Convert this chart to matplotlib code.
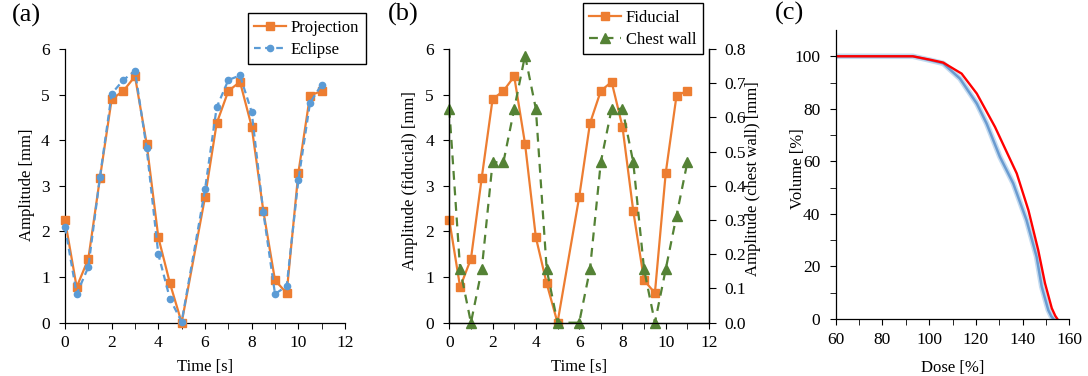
"""
Respiratory motion amplitude and DVH comparison
"""

import matplotlib
matplotlib.use('Agg')
import matplotlib.pyplot as plt
from matplotlib.ticker import MultipleLocator, FormatStrFormatter


# Data

time_s = [0, 0.5, 1, 1.5, 2, 2.5, 3, 3.5, 4, 4.5, 5,
          6, 6.5, 7, 7.5, 8, 8.5, 9, 9.5, 10, 10.5, 11]

projection = [2.25, 0.78, 1.40, 3.18, 4.90, 5.08, 5.40, 3.92, 1.87, 0.86, 0.00,
              2.75, 4.37, 5.08, 5.28, 4.30, 2.45, 0.93, 0.65, 3.28, 4.98, 5.08]

eclipse = [2.10, 0.63, 1.22, 3.20, 5.02, 5.32, 5.52, 3.82, 1.50, 0.52, 0.02,
           2.92, 4.72, 5.32, 5.42, 4.62, 2.42, 0.63, 0.80, 3.12, 4.82, 5.22]

fiducial = projection

chest_wall = [0.625, 0.156, 0.000, 0.156, 0.469, 0.469, 0.625, 0.781, 0.625, 0.156, 0.000,
              0.000, 0.156, 0.469, 0.625, 0.625, 0.469, 0.156, 0.000, 0.156, 0.313, 0.469]

dose_red = [60, 93.0, 100.4, 106.0, 113.9, 120.4, 128.2, 132.5, 137.5,
            142.5, 146.7, 149.6, 152.5, 154.0, 154.9]
vol_red = [100, 100, 98.7, 97.6, 93.4, 85.8, 73.1, 64.9, 55.4,
           41.4, 26.2, 13.6, 4.1, 1.2, 0]

dose_blue = [60, 93.0, 100.4, 106.0, 113.2, 120.4, 124.6, 130.3, 136.0,
             141.7, 146.0, 148.2, 151.0, 152.3, 153.2]
vol_blue = [100, 100, 98.5, 97.3, 91.5, 82.0, 74.4, 61.7, 51.6,
            37.6, 23.7, 12.3, 3.4, 1.0, 0]

ORANGE = '#ED7D31'
BLUE = '#5B9BD5'
GREEN = '#548235'

plt.rcParams['font.family'] = ['Liberation Serif', 'DejaVu Serif']
plt.rcParams['font.size'] = 12
plt.rcParams['xtick.labelsize'] = 12.5
plt.rcParams['ytick.labelsize'] = 12.5
plt.rcParams['xtick.direction'] = 'out'
plt.rcParams['ytick.direction'] = 'out'
plt.rcParams['xtick.major.size'] = 4
plt.rcParams['ytick.major.size'] = 4
plt.rcParams['xtick.minor.size'] = 4
plt.rcParams['ytick.minor.size'] = 4
plt.rcParams['xtick.major.pad'] = 5
plt.rcParams['ytick.major.pad'] = 7
plt.rcParams['axes.linewidth'] = 0.9

fig = plt.figure(figsize=(10.88, 3.76), dpi=100)
W, H = 1088, 376


def add_axes(x0, x1, y_top, y_bot):
    return fig.add_axes([x0 / W, 1 - y_bot / H, (x1 - x0) / W, (y_bot - y_top) / H])


def style_time_axis(ax):
    ax.set_xlim(0, 12)
    ax.set_ylim(0, 6)
    ax.xaxis.set_major_locator(MultipleLocator(2))
    ax.xaxis.set_minor_locator(MultipleLocator(1))
    ax.yaxis.set_major_locator(MultipleLocator(1))
    ax.spines['top'].set_visible(False)
    ax.set_xlabel('Time [s]')
    ax.xaxis.set_label_coords(0.5, -0.133)


def add_legend(handles, labels, right_px, top_px):
    leg = fig.legend(handles, labels, loc='upper right',
                     bbox_to_anchor=(right_px / W, 1 - top_px / H), borderaxespad=0,
                     fancybox=False, edgecolor='black', framealpha=1,
                     handlelength=1.9, handletextpad=0.3, borderpad=0.4,
                     labelspacing=0.35, fontsize=12)
    leg.get_frame().set_linewidth(1.0)
    return leg


# (a) Projection vs Eclipse

ax_a = add_axes(65, 345, 49, 322.7)
ax_a.plot(time_s, projection, color=ORANGE, lw=1.6, marker='s', ms=6,
          label='Projection', clip_on=False, zorder=3)
ax_a.plot(time_s, eclipse, color=BLUE, lw=1.6, ls=(0, (3, 2)), marker='o', ms=4.5,
          label='Eclipse', clip_on=False, zorder=4)
style_time_axis(ax_a)
ax_a.spines['right'].set_visible(False)
ax_a.set_ylabel('Amplitude [mm]')
ax_a.yaxis.set_label_coords(-0.107, 0.503)
add_legend(*ax_a.get_legend_handles_labels(), 366, 13)
fig.text(12 / W, 1 - 4 / H, '(a)', fontsize=19, va='top')


# (b) Fiducial vs chest wall

ax_b = add_axes(449.3, 709, 49, 322.7)
ax_b.plot(time_s, fiducial, color=ORANGE, lw=1.6, marker='s', ms=6,
          label='Fiducial', clip_on=False)
style_time_axis(ax_b)
ax_b.set_ylabel('Amplitude (fiducial) [mm]')
ax_b.yaxis.set_label_coords(-0.12, 0.518)

ax_b2 = ax_b.twinx()
ax_b2.plot(time_s, chest_wall, color=GREEN, lw=1.6, ls=(0, (4, 3)), marker='^', ms=6.5,
           label='Chest wall', clip_on=False)
ax_b2.set_ylim(0, 0.8)
ax_b2.yaxis.set_major_locator(MultipleLocator(0.1))
ax_b2.yaxis.set_major_formatter(FormatStrFormatter('%.1f'))
ax_b2.tick_params(axis='y', length=5, pad=6)
ax_b2.spines['top'].set_visible(False)
ax_b2.set_ylabel('Amplitude (chest wall) [mm]')
ax_b2.yaxis.set_label_coords(1.139, 0.525)

handles = ax_b.get_legend_handles_labels()[0] + ax_b2.get_legend_handles_labels()[0]
add_legend(handles, ['Fiducial', 'Chest wall'], 703, 3)
fig.text(388 / W, 1 - 3 / H, '(b)', fontsize=19, va='top')


# (c) Dose-volume histogram

ax_c = add_axes(835.7, 1069.3, 30, 319)
ax_c.plot(dose_blue, vol_blue, color='#9DC3E6', lw=4, alpha=0.6, solid_capstyle='round')
ax_c.plot(dose_blue, vol_blue, color='#6A9BD0', lw=1.8)
ax_c.plot(dose_red, vol_red, color='#FF0000', lw=1.7)
ax_c.set_xlim(60, 160)
ax_c.set_ylim(0, 110)
ax_c.xaxis.set_major_locator(MultipleLocator(20))
ax_c.xaxis.set_minor_locator(MultipleLocator(10))
ax_c.set_yticks([0, 20, 40, 60, 80, 100])
ax_c.set_yticks([10, 30, 50, 70, 90], minor=True)
ax_c.spines['top'].set_visible(False)
ax_c.spines['right'].set_visible(False)
ax_c.set_xlabel('Dose [%]')
ax_c.set_ylabel('Volume [%]')
ax_c.yaxis.set_label_coords(-0.127, 0.52)
ax_c.xaxis.set_label_coords(0.5, -0.141)
fig.text(775 / W, 1 - 2 / H, '(c)', fontsize=19, va='top')

plt.savefig('out.png', dpi=100)
